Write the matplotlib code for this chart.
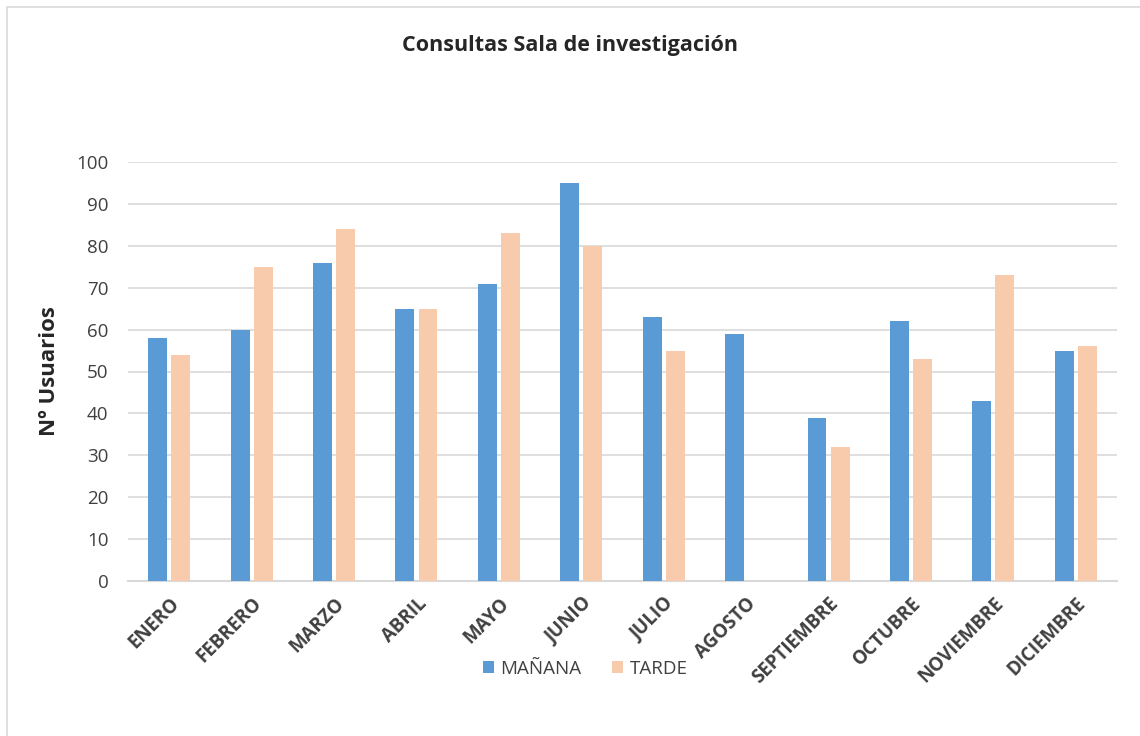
import matplotlib
matplotlib.use("Agg")
import matplotlib.pyplot as plt
import numpy as np
from matplotlib.patches import Rectangle

meses = ["ENERO", "FEBRERO", "MARZO", "ABRIL", "MAYO", "JUNIO", "JULIO",
         "AGOSTO", "SEPTIEMBRE", "OCTUBRE", "NOVIEMBRE", "DICIEMBRE"]
manana = [58, 60, 76, 65, 71, 95, 63, 59, 39, 62, 43, 55]
tarde = [54, 75, 84, 65, 83, 80, 55, 0, 32, 53, 73, 56]

plt.rcParams["font.family"] = ["Open Sans", "DejaVu Sans"]

fig = plt.figure(figsize=(11.4, 7.36), dpi=100)
# chart border
fig.patches.append(Rectangle((7 / 1140, -0.01), 1.02, 1 - 7 / 736 + 0.01,
                             transform=fig.transFigure, fill=False,
                             edgecolor="#D9D9D9", linewidth=1.2))

ax = fig.add_axes([128 / 1140, 1 - 581 / 736, (1117 - 128) / 1140, (581 - 162) / 736])
x = np.arange(len(meses))
w = 0.23
ax.bar(x - 0.14, manana, w, color="#5B9BD5", label="MAÑANA", zorder=3)
ax.bar(x + 0.14, tarde, w, color="#F8CBAD", label="TARDE", zorder=3)

ax.set_xlim(-0.5, len(meses) - 0.5)
ax.set_ylim(0, 100)
ax.set_yticks(range(0, 101, 10))
ax.yaxis.grid(True, color="#D9D9D9", linewidth=1.2, zorder=0)
for s in ["top", "right", "left"]:
    ax.spines[s].set_visible(False)
ax.spines["bottom"].set_color("#D9D9D9")
ax.spines["bottom"].set_linewidth(1.5)
ax.tick_params(axis="both", length=0, colors="#404040", labelsize=13.5)
ax.tick_params(axis="y", pad=14)
ax.set_xticks(x)
ax.set_xticklabels(meses, rotation=45, ha="right", rotation_mode="anchor",
                   fontsize=13.5, fontweight="bold", color="#404040")
ax.tick_params(axis="x", pad=9)

ax.set_ylabel("Nº Usuarios", fontsize=16, fontweight="bold", color="#262626", labelpad=12)
fig.text(0.5, 1 - 45 / 736, "Consultas Sala de investigación", ha="center", va="center",
         fontsize=15.5, fontweight="bold", color="#262626")

fig.legend(loc="center", bbox_to_anchor=(585 / 1140, 1 - 669 / 736), ncol=2, frameon=False,
           fontsize=13.5, handlelength=0.6, handleheight=0.6, handletextpad=0.35,
           columnspacing=1.6, labelcolor="#404040")

fig.savefig("out.png", dpi=100)
